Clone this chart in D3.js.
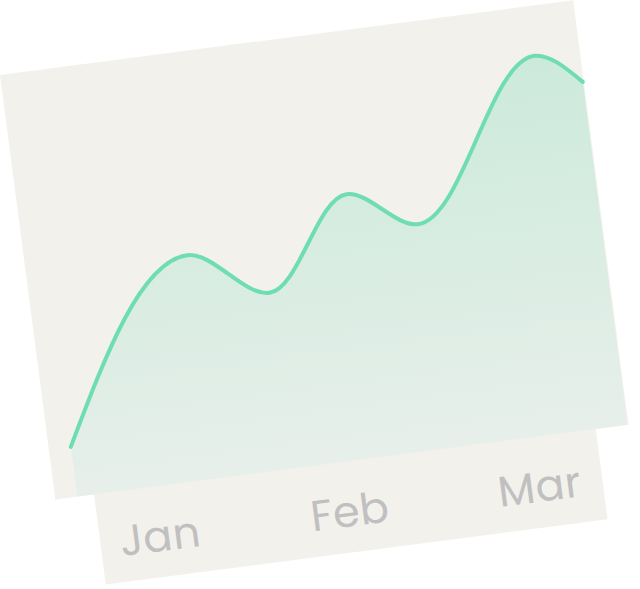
<!DOCTYPE html>
<html>
<head>
<meta charset="utf-8">
<script src="https://cdn.jsdelivr.net/npm/d3@7"></script>
<style>
  html, body { margin: 0; padding: 0; background: #fff; }
  svg { display: block; }
</style>
</head>
<body>
<svg id="graf"></svg>
<script>
// data (day of quarter -> value)
let days = [3, 25, 37, 51, 61.5, 83, 90]
let values = [11.7, 52.6, 41.4, 61.9, 52.8, 88.3, 80.8]
let tickDays = [15, 45, 75]
let tickLabels = ['Jan', 'Feb', 'Mar']

let datos = days.map((d, i) => ({ day: d, value: values[i] }))

function graficar() {
  let w = 640
  let h = 589
  let cardW = 578
  let cardH = 428

  let svg = d3.select('#graf')
    .attr('width', w)
    .attr('height', h)

  let defs = svg.append('defs')
  let grad = defs.append('linearGradient')
    .attr('id', 'fillGrad')
    .attr('gradientUnits', 'userSpaceOnUse')
    .attr('x1', 0).attr('y1', 40)
    .attr('x2', 0).attr('y2', cardH)
  grad.append('stop').attr('offset', '0%').attr('stop-color', '#cbeadb')
  grad.append('stop').attr('offset', '100%').attr('stop-color', '#e7efea')

  // whole card is tilted
  let g = svg.append('g')
    .attr('transform', 'translate(0,75) rotate(-7.43)')

  let x = d3.scaleLinear().domain([0, 90]).range([3, 577])
  let y = d3.scaleLinear().domain([0, 100]).range([cardH, 0])

  // lower card with the month labels (sits behind)
  g.append('rect')
    .attr('x', 39)
    .attr('y', 360)
    .attr('width', 506)
    .attr('height', 159)
    .style('fill', '#f3f1ec')

  // upper card
  g.append('rect')
    .attr('x', 0)
    .attr('y', 0)
    .attr('width', cardW)
    .attr('height', cardH)
    .style('fill', '#f3f1ec')

  let area = d3.area()
    .x(d => x(d.day))
    .y0(cardH)
    .y1(d => y(d.value))
    .curve(d3.curveMonotoneX)

  let line = d3.line()
    .x(d => x(d.day))
    .y(d => y(d.value))
    .curve(d3.curveMonotoneX)

  g.append('path')
    .datum(datos)
    .attr('d', area)
    .style('fill', 'url(#fillGrad)')

  g.append('path')
    .datum(datos)
    .attr('d', line)
    .style('fill', 'none')
    .style('stroke', '#6fddb3')
    .style('stroke-width', 4)
    .style('stroke-linecap', 'round')

  let axis = d3.axisBottom(x)
    .tickValues(tickDays)
    .tickFormat((d, i) => tickLabels[i])
    .tickSize(0)
    .tickPadding(0)

  let ax = g.append('g')
    .attr('transform', 'translate(0,493)')
    .call(axis)
  ax.select('.domain').remove()
  ax.selectAll('text')
    .attr('dy', 0)
    .attr('y', 0)
    .style('font-family', 'Poppins, Lato, sans-serif')
    .style('font-weight', 400)
    .style('font-size', '43px')
    .style('letter-spacing', '0.5px')
    .style('fill', '#c0c0c0')
}

graficar()
</script>
</body>
</html>
